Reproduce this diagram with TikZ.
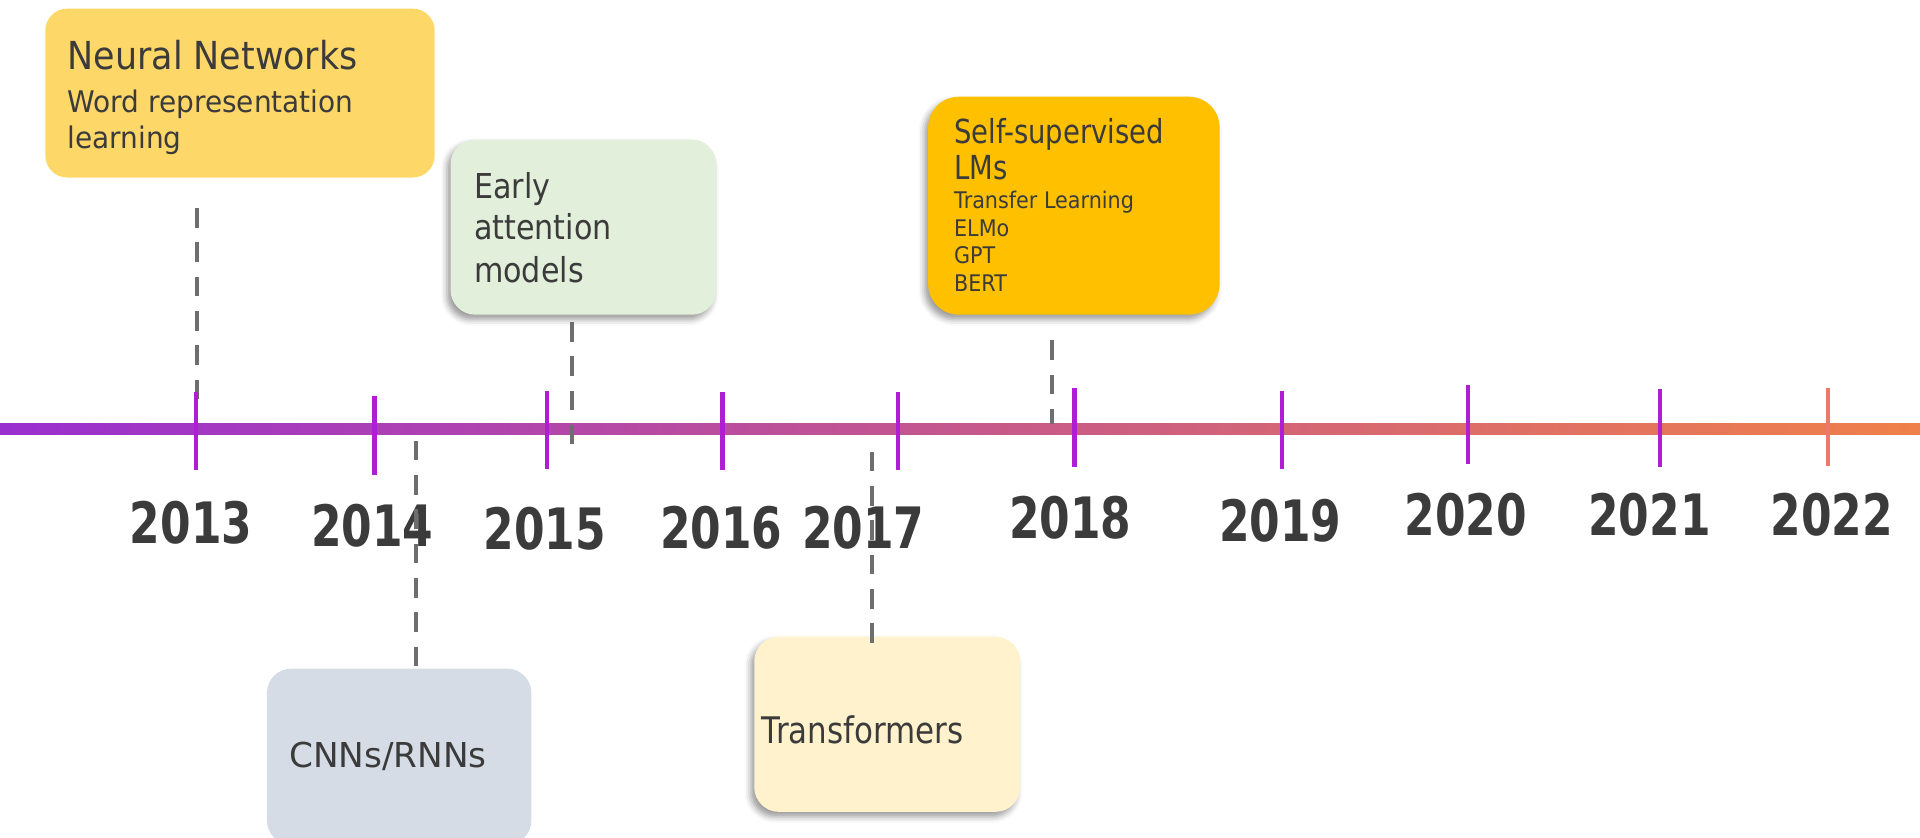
\documentclass[tikz,border=0pt]{standalone}
\usepackage{fontspec}
\usepackage{graphicx}
\setmainfont{DejaVu Sans}
\usetikzlibrary{shadows.blur}

\definecolor{ink}{HTML}{3B3B3B}
\definecolor{nnfill}{HTML}{FDD868}
\definecolor{eafill}{HTML}{E2EFDA}
\definecolor{ssfill}{HTML}{FFC000}
\definecolor{cnfill}{HTML}{D6DCE5}
\definecolor{trfill}{HTML}{FFF2CC}
\definecolor{tickc}{HTML}{AF1ED2}
\definecolor{tickend}{HTML}{EC7A6A}
\definecolor{lineL}{HTML}{9A2FD0}
\definecolor{lineM}{HTML}{D45CA8}
\definecolor{lineR}{HTML}{F08049}
\definecolor{dashc}{HTML}{6E6E6E}

% horizontal squeeze of a piece of text
\newcommand\sqz[2]{\scalebox{#1}[1]{#2}}
\newcommand\fsz[1]{\fontsize{#1}{#1}\selectfont}

\tikzset{
  box/.style={rounded corners=20pt, inner sep=0pt, draw=none},
  shadowed/.style={blur shadow={shadow xshift=-3pt, shadow yshift=-4pt,
      shadow blur radius=5pt, shadow opacity=40}},
  txt/.style={anchor=base west, inner sep=0pt, text=ink},
  year/.style={anchor=base, inner sep=0pt, text=ink,
      font=\fontsize{46.6}{50}\selectfont\bfseries},
  conn/.style={draw=dashc, line width=3.2pt, dash pattern=on 16pt off 12pt},
  tickmark/.style={draw=tickc, line width=3.6pt},
}

\begin{document}
\begin{tikzpicture}[x=1pt, y=-1pt]
\useasboundingbox (0,0) rectangle (1568,684);

% topic boxes
\node[box, fill=nnfill, rounded corners=18pt, minimum width=318pt, minimum height=138pt] (nn) at (196,76) {};
\node[box, shadowed, fill=eafill, minimum width=217pt, minimum height=143pt] (ea) at (476.5,185.5) {};
\node[box, shadowed, fill=ssfill, rounded corners=25pt, minimum width=238pt, minimum height=178pt] (ss) at (877,168) {};
\node[box, fill=cnfill, minimum width=216pt, minimum height=144pt] (cn) at (326,618) {};
\node[box, shadowed, fill=trfill, minimum width=217pt, minimum height=143pt] (tr) at (724.5,591.5) {};

% box texts
\node[txt, font=\fsz{31.5}] (nnA) at (55,57) {\sqz{0.905}{Neural Networks}};
\node[txt, font=\fsz{24.3}] (nnB) at (55,91.5) {\sqz{0.94}{Word representation}};
\node[txt, font=\fsz{24.3}] (nnC) at (55,121) {\sqz{0.94}{learning}};

\node[txt, font=\fsz{28}] (eaA) at (387,162) {\sqz{0.88}{Early}};
\node[txt, font=\fsz{28}] (eaB) at (387,196) {\sqz{0.88}{attention}};
\node[txt, font=\fsz{28}] (eaC) at (387,231) {\sqz{0.88}{models}};

\node[txt, font=\fsz{27}] (ssA) at (779,117) {\sqz{0.83}{Self-supervised}};
\node[txt, font=\fsz{27}] (ssB) at (779,147) {\sqz{0.83}{LMs}};
\node[txt, font=\fsz{18.7}] (ssC) at (779,170) {\sqz{0.905}{Transfer Learning}};
\node[txt, font=\fsz{18.7}] (ssD) at (779,193.5) {\sqz{0.905}{ELMo}};
\node[txt, font=\fsz{18.7}] (ssE) at (779,215.6) {\sqz{0.905}{GPT}};
\node[txt, font=\fsz{18.7}] (ssF) at (779,237.7) {\sqz{0.905}{BERT}};

\node[txt, font=\fsz{28}] (cnA) at (236,627) {CNNs/RNNs};
\node[txt, font=\fsz{29.9}] (trA) at (622,607) {\sqz{0.845}{Transformers}};

% time axis
\shade[left color=lineL, middle color=lineM, right color=lineR]
  (0,345.7) rectangle (1568,354.5);

% year labels
\node[year] (y2013) at (156,443.7) {\sqz{0.77}{2013}};
\node[year] (y2014) at (304,446.5) {\sqz{0.77}{2014}};
\node[year] (y2015) at (445,449) {\sqz{0.77}{2015}};
\node[year] (y2016) at (589,447.7) {\sqz{0.77}{2016}};
\node[year] (y2017) at (705,447.7) {\sqz{0.77}{2017}};
\node[year] (y2018) at (874,439.6) {\sqz{0.77}{2018}};
\node[year] (y2019) at (1045.5,442.4) {\sqz{0.77}{2019}};
\node[year] (y2020) at (1197,437.5) {\sqz{0.77}{2020}};
\node[year] (y2021) at (1347,437.5) {\sqz{0.77}{2021}};
\node[year] (y2022) at (1496,437.5) {\sqz{0.77}{2022}};

% dashed leaders between boxes and the axis
\coordinate (nnTop) at (161,170);   \coordinate (nnBot) at (161,330);
\coordinate (eaTop) at (467.5,263); \coordinate (eaBot) at (467.5,365);
\coordinate (cnTop) at (340,357);   \coordinate (cnBot) at (340,544);
\coordinate (trTop) at (712,367);   \coordinate (trBot) at (712,525);
\coordinate (ssTop) at (859,278);   \coordinate (ssBot) at (859,346);
\draw[conn] (nnTop) -- (nnBot);
\draw[conn] (eaTop) -- (eaBot);
\draw[conn] (cnBot) -- (cnTop);
\draw[conn] (trBot) -- (trTop);
\draw[conn] (ssTop) -- (ssBot);

% year ticks
\foreach \x/\t/\b in {160/320/384, 306/323.5/388, 446.6/319/383, 590/320/384,
    733.5/320/384, 877.5/317/381, 1047/319/383, 1199/314.4/379, 1355.7/317.4/381.6}
  \draw[tickmark] (\x,\t) -- (\x,\b);
\draw[tickmark, draw=tickend] (1493,317) -- (1493,380.5);
\end{tikzpicture}
\end{document}
